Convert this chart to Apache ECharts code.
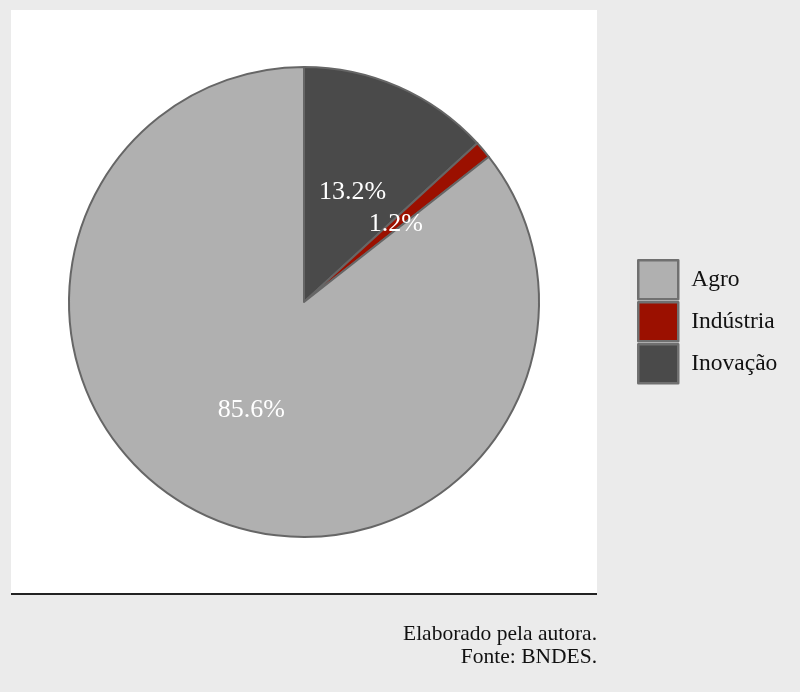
<!DOCTYPE html>
<html>
<head>
<meta charset="utf-8">
<script src="https://cdn.jsdelivr.net/npm/echarts@6/dist/echarts.min.js"></script>
<style>html,body{margin:0;padding:0;background:#ebebeb;}#c{width:800px;height:692px;}</style>
</head>
<body>
<div id="c"></div>
<script>
var categories = ['Inovação', 'Indústria', 'Agro'];
var values = [13.2, 1.2, 85.6];
var colors = ['#4a4a4a', '#9b1000', '#b0b0b0'];
var legendOrder = ['Agro', 'Indústria', 'Inovação'];
var captionLines = ['Elaborado pela autora.', 'Fonte: BNDES.'];

var chart = echarts.init(document.getElementById('c'));
var serif = '"Liberation Serif", "DejaVu Serif", serif';
chart.setOption({
  backgroundColor: '#ebebeb',
  animation: false,
  graphic: [
    {type: 'rect', shape: {x: 11, y: 10, width: 586, height: 583}, style: {fill: '#ffffff'}, z: -10},
    {type: 'line', shape: {x1: 11, y1: 594, x2: 597, y2: 594}, style: {stroke: '#222', lineWidth: 2}},
    {type: 'text', x: 597, y: 634, style: {text: captionLines[0], font: '21.5px ' + serif, fill: '#111', textAlign: 'right', textVerticalAlign: 'middle'}},
    {type: 'text', x: 597, y: 657, style: {text: captionLines[1], font: '21.5px ' + serif, fill: '#111', textAlign: 'right', textVerticalAlign: 'middle'}}
  ],
  legend: {
    data: legendOrder,
    orient: 'vertical',
    left: 637,
    top: 259,
    padding: 0,
    itemWidth: 40,
    itemHeight: 39,
    itemGap: 0.5,
    icon: 'rect',
    itemStyle: {borderColor: '#707070', borderWidth: 2.5},
    textStyle: {fontFamily: serif, fontSize: 23.5, lineHeight: 36, color: '#111', padding: [0, 0, 0, 8]}
  },
  series: [{
    type: 'pie',
    center: [304, 302],
    radius: [0, 235],
    startAngle: 90,
    clockwise: true,
    silent: true,
    data: categories.map(function (c, i) {
      return {name: c, value: values[i], itemStyle: {color: colors[i]}};
    }),
    itemStyle: {borderColor: '#666666', borderWidth: 2},
    label: {
      show: true,
      position: 'inside',
      formatter: function (p) { return p.value.toFixed(1) + '%'; },
      color: '#ffffff',
      fontFamily: serif,
      fontSize: 26
    },
    labelLine: {show: false}
  }]
});
</script>
</body>
</html>
